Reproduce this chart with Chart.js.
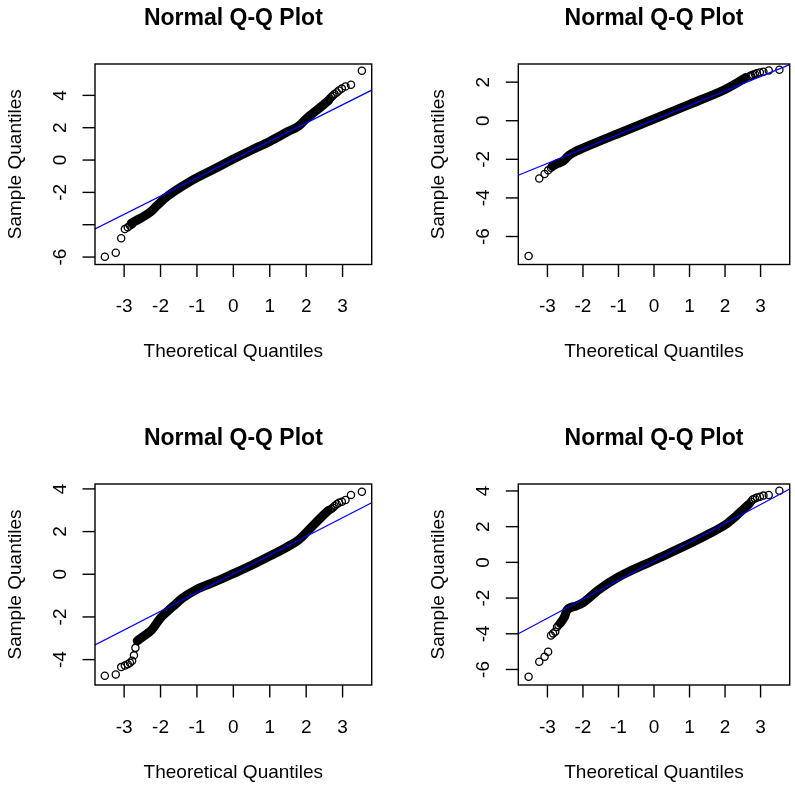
<!DOCTYPE html>
<html>
<head>
<meta charset="utf-8">
<script src="https://cdn.jsdelivr.net/npm/chart.js@4.4.1/dist/chart.umd.min.js"></script>
<style>
  html, body { margin: 0; padding: 0; background: #fff; }
  #page { position: relative; width: 795px; height: 785px; overflow: hidden; }
  #page canvas { position: absolute; }
</style>
</head>
<body>
<div id="page"></div>
<script>
const titleText = "Normal Q-Q Plot";
const xTitle = "Theoretical Quantiles";
const yTitle = "Sample Quantiles";
const xTicks = [-3, -2, -1, 0, 1, 2, 3];

// top left
const p1TailX = [-3.53, -3.23, -3.08, -2.98, -2.90, -2.84, -2.78, 2.65, 2.69, 2.73, 2.78, 2.84, 2.90, 2.98, 3.08, 3.23, 3.53];
const p1TailY = [-5.98, -5.73, -4.84, -4.27, -4.15, -4.05, -3.97, 3.80, 3.90, 3.98, 4.08, 4.18, 4.30, 4.42, 4.55, 4.66, 5.52];
const p1BandX = [-2.80, -2.55, -2.27, -2.09, -1.90, -1.63, -1.17, -0.50, 0, 0.50, 1.00, 1.50, 1.80, 2.00, 2.20, 2.40, 2.62];
const p1BandY = [-3.90, -3.60, -3.20, -2.80, -2.40, -1.95, -1.30, -0.52, 0.06, 0.62, 1.15, 1.76, 2.12, 2.55, 2.92, 3.28, 3.70];
const p1Line = [0.03, 1.13]; // intercept, slope
const p1YTicks = [-6, -4, -2, 0, 2, 4];
const p1YLabels = ["-6", "", "-2", "0", "2", "4"];
const p1YRange = [-6.46, 5.94];

// top right
const p2TailX = [-3.53, -3.23, -3.08, -2.98, -2.90, 2.69, 2.73, 2.78, 2.84, 2.90, 2.98, 3.08, 3.23, 3.53];
const p2TailY = [-7.01, -2.99, -2.76, -2.57, -2.44, 2.30, 2.34, 2.38, 2.42, 2.46, 2.50, 2.54, 2.60, 2.64];
const p2BandX = [-2.86, -2.72, -2.55, -2.40, -2.20, -2.00, -1.00, 0, 1.00, 2.00, 2.30, 2.58];
const p2BandY = [-2.36, -2.22, -2.08, -1.80, -1.58, -1.42, -0.66, 0.09, 0.85, 1.62, 1.92, 2.24];
const p2Line = [0.04, 0.75];
const p2YTicks = [-6, -4, -2, 0, 2];
const p2YLabels = ["-6", "-4", "-2", "0", "2"];
const p2YRange = [-7.45, 2.94];

// bottom left
const p3TailX = [-3.53, -3.23, -3.08, -2.98, -2.90, -2.84, -2.78, -2.73, -2.69, 2.65, 2.69, 2.73, 2.78, 2.84, 2.90, 2.98, 3.08, 3.23, 3.53];
const p3TailY = [-4.76, -4.70, -4.35, -4.28, -4.22, -4.15, -4.05, -3.80, -3.45, 3.02, 3.06, 3.12, 3.20, 3.28, 3.35, 3.40, 3.48, 3.72, 3.87];
const p3BandX = [-2.64, -2.46, -2.25, -2.00, -1.80, -1.60, -1.40, -1.00, -0.50, 0, 0.50, 1.00, 1.50, 1.80, 2.00, 2.20, 2.40, 2.60];
const p3BandY = [-3.12, -2.90, -2.62, -2.05, -1.72, -1.42, -1.12, -0.70, -0.35, 0.03, 0.42, 0.85, 1.30, 1.62, 1.95, 2.30, 2.65, 2.98];
const p3Line = [0.02, 0.877];
const p3YTicks = [-4, -2, 0, 2, 4];
const p3YLabels = ["-4", "-2", "0", "2", "4"];
const p3YRange = [-5.19, 4.23];

// bottom right
const p4TailX = [-3.53, -3.23, -3.08, -2.98, -2.90, -2.84, -2.78, -2.73, -2.69, 2.69, 2.73, 2.78, 2.84, 2.90, 2.98, 3.08, 3.23, 3.53];
const p4TailY = [-6.41, -5.57, -5.29, -5.01, -4.10, -3.98, -3.88, -3.62, -3.52, 3.30, 3.40, 3.52, 3.58, 3.64, 3.68, 3.74, 3.77, 4.01];
const p4BandX = [-2.64, -2.52, -2.45, -2.20, -2.00, -1.57, -1.00, 0, 1.00, 1.50, 2.00, 2.30, 2.50, 2.65];
const p4BandY = [-3.42, -3.05, -2.68, -2.45, -2.26, -1.55, -0.82, 0.12, 1.05, 1.55, 2.10, 2.58, 2.95, 3.22];
const p4Line = [0.055, 1.062];
const p4YTicks = [-6, -4, -2, 0, 2, 4];
const p4YLabels = ["-6", "-4", "-2", "0", "2", "4"];
const p4YRange = [-6.87, 4.39];

const panels = [
  { tailX: p1TailX, tailY: p1TailY, bandX: p1BandX, bandY: p1BandY, line: p1Line, yTicks: p1YTicks, yLabels: p1YLabels, xRange: [-3.8, 3.8], yRange: p1YRange },
  { tailX: p2TailX, tailY: p2TailY, bandX: p2BandX, bandY: p2BandY, line: p2Line, yTicks: p2YTicks, yLabels: p2YLabels, xRange: [-3.82, 3.82], yRange: p2YRange },
  { tailX: p3TailX, tailY: p3TailY, bandX: p3BandX, bandY: p3BandY, line: p3Line, yTicks: p3YTicks, yLabels: p3YLabels, xRange: [-3.8, 3.8], yRange: p3YRange },
  { tailX: p4TailX, tailY: p4TailY, bandX: p4BandX, bandY: p4BandY, line: p4Line, yTicks: p4YTicks, yLabels: p4YLabels, xRange: [-3.82, 3.82], yRange: p4YRange }
];

// where each panel sits on the page (box = plot region inside the canvas)
const frames = [
  { left: 0,   top: 0,   width: 397, height: 395, box: { left: 95,    top: 64, right: 371.7, bottom: 264.5 } },
  { left: 400, top: 0,   width: 395, height: 395, box: { left: 118.3, top: 64, right: 394.2, bottom: 264.5 } },
  { left: 0,   top: 400, width: 397, height: 385, box: { left: 95,    top: 84, right: 371.7, bottom: 285 } },
  { left: 400, top: 400, width: 395, height: 385, box: { left: 118.3, top: 84, right: 394.2, bottom: 285 } }
];

const FONT = "'Liberation Sans', Arial, sans-serif";
const TICK = 12.5;

// R-style box, ticks and titles drawn off the chart's own scales
function rAxes(p) {
  return {
    id: "rAxes",
    afterDraw(chart) {
      const { ctx, chartArea: a, scales: { x, y } } = chart;
      ctx.save();
      ctx.strokeStyle = "#000";
      ctx.fillStyle = "#000";
      ctx.lineWidth = 1.4;
      ctx.strokeRect(a.left, a.top, a.right - a.left, a.bottom - a.top);

      ctx.font = "19px " + FONT;
      ctx.textAlign = "center";
      ctx.textBaseline = "alphabetic";
      xTicks.forEach(v => {
        const px = x.getPixelForValue(v);
        ctx.beginPath();
        ctx.moveTo(px, a.bottom);
        ctx.lineTo(px, a.bottom + TICK);
        ctx.stroke();
        ctx.fillText(String(v), px, a.bottom + 47.5);
      });

      p.yTicks.forEach((v, i) => {
        const py = y.getPixelForValue(v);
        ctx.beginPath();
        ctx.moveTo(a.left - TICK, py);
        ctx.lineTo(a.left, py);
        ctx.stroke();
        if (p.yLabels[i]) {
          ctx.save();
          ctx.translate(a.left - 29, py);
          ctx.rotate(-Math.PI / 2);
          ctx.fillText(p.yLabels[i], 0, 0);
          ctx.restore();
        }
      });

      const cx = (a.left + a.right) / 2;
      ctx.fillText(xTitle, cx, a.bottom + 92.5);

      ctx.save();
      ctx.translate(a.left - 74.5, (a.top + a.bottom) / 2);
      ctx.rotate(-Math.PI / 2);
      ctx.fillText(yTitle, 0, 0);
      ctx.restore();

      ctx.font = "bold 23px " + FONT;
      ctx.fillText(titleText, cx, a.top - 39.5);
      ctx.restore();
    }
  };
}

function makePanel(p, f) {
  const canvas = document.createElement("canvas");
  canvas.width = f.width;
  canvas.height = f.height;
  canvas.style.left = f.left + "px";
  canvas.style.top = f.top + "px";
  document.getElementById("page").appendChild(canvas);

  const [x0, x1] = p.xRange;
  const [a, b] = p.line;

  new Chart(canvas, {
    type: "scatter",
    data: {
      datasets: [
        {
          data: [{ x: x0, y: a + b * x0 }, { x: x1, y: a + b * x1 }],
          showLine: true, borderColor: "#0000ff", borderWidth: 1.3, pointRadius: 0
        },
        {
          data: p.bandX.map((v, i) => ({ x: v, y: p.bandY[i] })),
          showLine: true, borderColor: "#000", borderWidth: 9,
          cubicInterpolationMode: "monotone",
          borderCapStyle: "round", borderJoinStyle: "round", pointRadius: 0
        },
        {
          data: p.tailX.map((v, i) => ({ x: v, y: p.tailY[i] })),
          pointRadius: 3.6, pointBorderWidth: 1.3,
          pointBorderColor: "#000", pointBackgroundColor: "rgba(0,0,0,0)"
        }
      ]
    },
    options: {
      responsive: false,
      animation: false,
      devicePixelRatio: 1,
      events: [],
      layout: { padding: { left: f.box.left, top: f.box.top, right: f.width - f.box.right, bottom: f.height - f.box.bottom } },
      scales: {
        x: { type: "linear", min: x0, max: x1, display: false },
        y: { type: "linear", min: p.yRange[0], max: p.yRange[1], display: false }
      },
      plugins: { legend: { display: false }, tooltip: { enabled: false } }
    },
    plugins: [rAxes(p)]
  });
}

panels.forEach((p, i) => makePanel(p, frames[i]));
</script>
</body>
</html>
